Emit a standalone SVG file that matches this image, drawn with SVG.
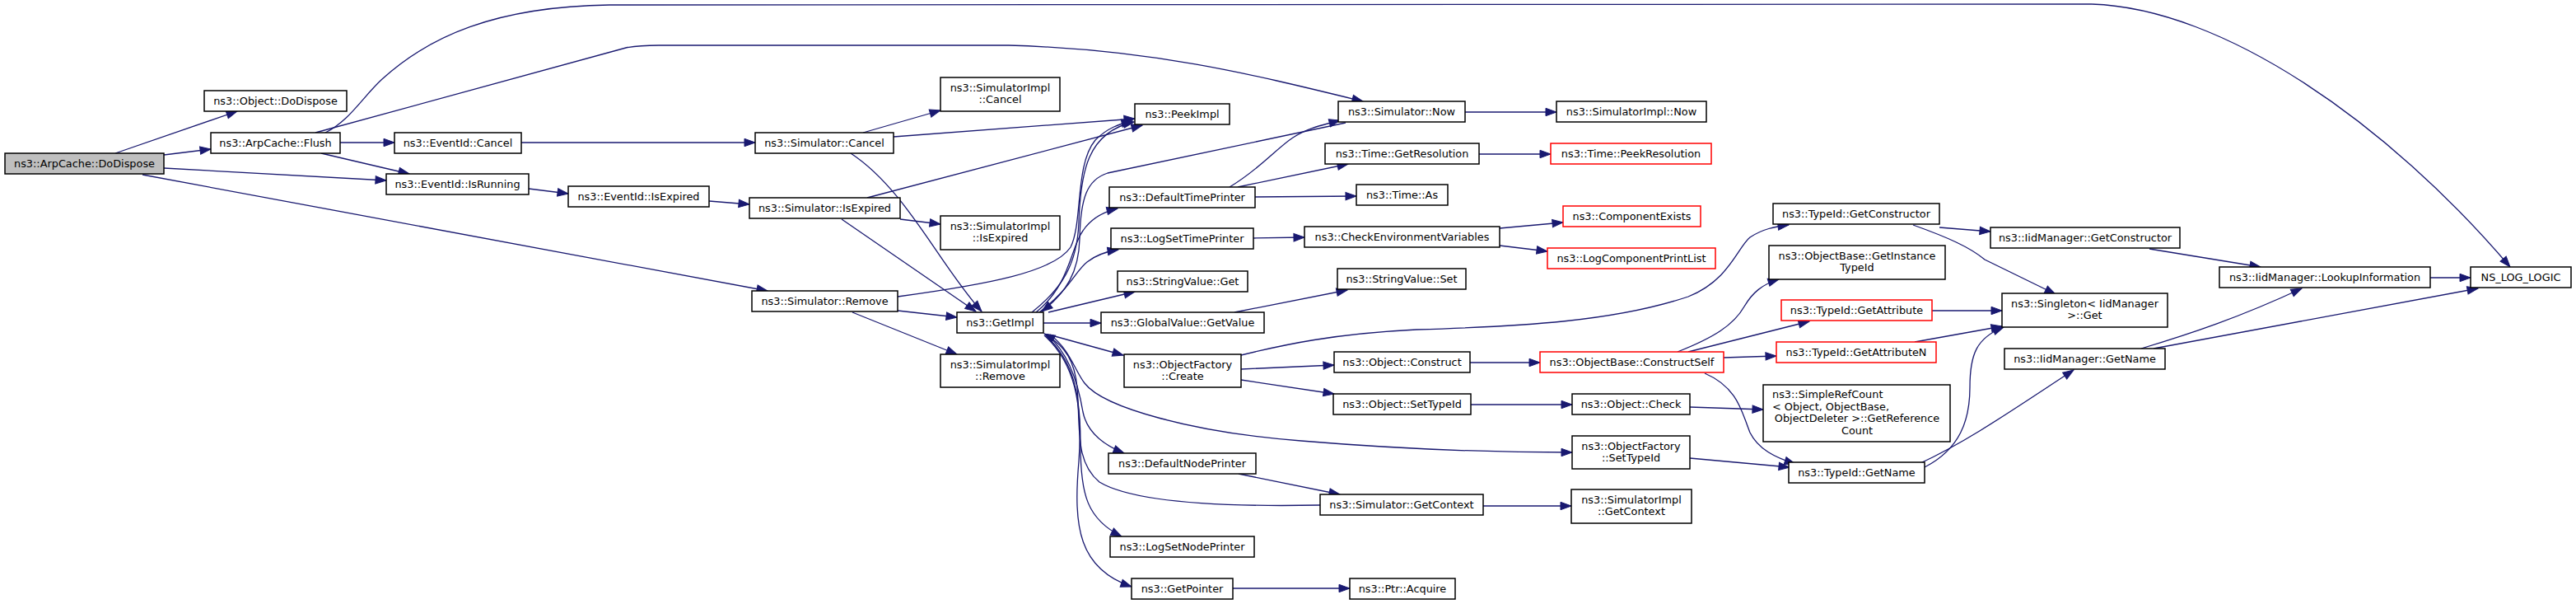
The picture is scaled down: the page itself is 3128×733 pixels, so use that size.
<svg xmlns="http://www.w3.org/2000/svg" width="3128" height="733" viewBox="0 0 3128 733">
<style>
.n rect{fill:#fff;stroke:#000;stroke-width:1.5}
.n.r rect{stroke:#ff0000}
.n.g rect{fill:#bfbfbf}
.n text{font-family:"DejaVu Sans","Liberation Sans",sans-serif;font-size:12.85px;fill:#000;text-anchor:middle}
.n text.l{text-anchor:start}
#edges path{fill:none;stroke:#191970;stroke-width:1.3;marker-end:url(#ah)}
</style>
<defs>
<marker id="ah" markerUnits="userSpaceOnUse" markerWidth="14" markerHeight="11" refX="13" refY="5" orient="auto" overflow="visible">
<path d="M0,0.3 L13,5 L0,9.7 z" fill="#191970" stroke="#191970" stroke-width="1"/>
</marker>
</defs>
<rect width="3128" height="733" fill="#fff"/>
<g id="edges">
<path d="M140,186 L288,135"/>
<path d="M199,188 L256,181"/>
<path d="M199,204 L469,219"/>
<path d="M173,212 L932,353"/>
<path d="M395,161 C425,146 440,118 464,96 C520,45 600,8 740,6 L2540,5 C2700,10 2900,150 3048,324"/>
<path d="M383,161 L760,58 Q775,55 800,55 L1225,55 C1400,60 1520,90 1655,123"/>
<path d="M413,173 L479,173"/>
<path d="M390,186 L497,211"/>
<path d="M633,173 L917,173"/>
<path d="M642,229 L690,235"/>
<path d="M861,244 L910,248"/>
<path d="M1048,161 L1142,134"/>
<path d="M1085,166 L1378,144"/>
<path d="M1033,186 C1100,230 1140,320 1192,378"/>
<path d="M1053,240 L1387,152"/>
<path d="M1093,266 L1142,272"/>
<path d="M1022,266 L1185,378"/>
<path d="M1090,360 C1200,345 1280,330 1300,300 C1315,270 1305,200 1330,170 C1345,155 1360,150 1375,147"/>
<path d="M1253,379 C1290,350 1308,320 1310,270 C1312,210 1320,160 1377,148"/>
<path d="M1634,149 L1345,210 C1320,218 1312,240 1311,290 C1310,330 1295,355 1265,378"/>
<path d="M1258,379 C1300,345 1300,300 1315,280 C1325,265 1340,257 1357,253"/>
<path d="M1262,379 C1300,350 1305,330 1320,318 C1330,310 1345,305 1358,303"/>
<path d="M1273,379 L1378,354"/>
<path d="M1267,392 L1337,392"/>
<path d="M1277,407 L1364,431"/>
<path d="M1275,406 C1300,425 1305,450 1317,465 C1340,495 1450,525 1580,535 C1700,545 1800,549 1909,549"/>
<path d="M1603,613 C1500,615 1380,612 1335,585 C1305,560 1312,520 1308,470 C1305,440 1295,420 1268,405"/>
<path d="M1272,407 C1300,430 1310,470 1315,500 C1320,525 1340,540 1365,550"/>
<path d="M1270,407 C1305,440 1312,480 1312,540 C1312,600 1320,630 1362,651"/>
<path d="M1268,407 C1305,440 1315,490 1310,560 C1303,640 1310,690 1374,712"/>
<path d="M1504,575 L1627,600"/>
<path d="M1035,379 L1162,430"/>
<path d="M1090,377 L1162,385"/>
<path d="M1779,136 L1890,136"/>
<path d="M1493,227 C1530,205 1550,180 1570,167 C1585,157 1600,153 1627,146"/>
<path d="M1503,227 L1637,199"/>
<path d="M1524,239 L1647,238"/>
<path d="M1796,187 L1883,187"/>
<path d="M1522,289 L1584,288"/>
<path d="M1821,277 L1898,270"/>
<path d="M1821,298 L1879,305"/>
<path d="M1499,379 L1636,352"/>
<path d="M1507,431 C1560,418 1620,405 1720,400 C1850,396 1960,390 2050,360 C2100,340 2110,300 2125,288 C2140,278 2155,275 2172,273"/>
<path d="M1507,448 L1620,443"/>
<path d="M1507,461 L1620,478"/>
<path d="M1785,440 L1870,440"/>
<path d="M1786,491 L1909,491"/>
<path d="M2037,427 C2080,410 2105,395 2118,372 C2128,355 2140,345 2160,339"/>
<path d="M2050,427 L2197,390"/>
<path d="M2093,434 L2157,432"/>
<path d="M2070,453 C2110,470 2115,500 2125,525 C2135,545 2155,555 2180,563"/>
<path d="M2052,494 L2141,497"/>
<path d="M2052,556 L2173,567"/>
<path d="M1801,614 L1908,614"/>
<path d="M1497,714 L1639,714"/>
<path d="M2355,276 L2417,281"/>
<path d="M2323,273 C2365,288 2392,300 2410,315 L2496,357"/>
<path d="M2346,377 L2431,377"/>
<path d="M2325,415 L2431,396"/>
<path d="M2337,567 C2380,545 2392,510 2392,470 C2392,430 2400,410 2433,397"/>
<path d="M2330,563 C2390,535 2440,500 2518,449"/>
<path d="M2610,302 L2745,324"/>
<path d="M2951,337 L3000,337"/>
<path d="M2600,423 C2660,405 2720,385 2795,350"/>
<path d="M2615,423 L3009,350"/>
</g>
<g id="n_dodispose" class="n g"><rect x="6" y="186" width="193" height="25"/><text x="102.5" y="203">ns3::ArpCache::DoDispose</text></g>
<g id="n_objdodispose" class="n"><rect x="248" y="110" width="173" height="25"/><text x="334.5" y="127">ns3::Object::DoDispose</text></g>
<g id="n_flush" class="n"><rect x="256" y="161" width="157" height="25"/><text x="334.5" y="178">ns3::ArpCache::Flush</text></g>
<g id="n_evcancel" class="n"><rect x="479" y="161" width="154" height="25"/><text x="556" y="178">ns3::EventId::Cancel</text></g>
<g id="n_isrunning" class="n"><rect x="469" y="211" width="173" height="25"/><text x="555.5" y="228">ns3::EventId::IsRunning</text></g>
<g id="n_evisexpired" class="n"><rect x="690" y="226" width="171" height="25"/><text x="775.5" y="243">ns3::EventId::IsExpired</text></g>
<g id="n_simcancel" class="n"><rect x="917" y="161" width="168" height="25"/><text x="1001" y="178">ns3::Simulator::Cancel</text></g>
<g id="n_simisexpired" class="n"><rect x="910" y="240" width="183" height="25"/><text x="1001.5" y="257">ns3::Simulator::IsExpired</text></g>
<g id="n_simremove" class="n"><rect x="913" y="353" width="177" height="25"/><text x="1001.5" y="370">ns3::Simulator::Remove</text></g>
<g id="n_implcancel" class="n"><rect x="1142" y="94" width="145" height="41"/><text x="1214.5" y="111">ns3::SimulatorImpl</text><text x="1214.5" y="125">::Cancel</text></g>
<g id="n_implisexpired" class="n"><rect x="1142" y="262" width="145" height="41"/><text x="1214.5" y="279">ns3::SimulatorImpl</text><text x="1214.5" y="293">::IsExpired</text></g>
<g id="n_implremove" class="n"><rect x="1142" y="430" width="145" height="40"/><text x="1214.5" y="447">ns3::SimulatorImpl</text><text x="1214.5" y="461">::Remove</text></g>
<g id="n_getimpl" class="n"><rect x="1162" y="379" width="105" height="25"/><text x="1214.5" y="396">ns3::GetImpl</text></g>
<g id="n_peekimpl" class="n"><rect x="1378" y="126" width="115" height="25"/><text x="1435.5" y="143">ns3::PeekImpl</text></g>
<g id="n_deftime" class="n"><rect x="1347" y="227" width="177" height="25"/><text x="1435.5" y="244">ns3::DefaultTimePrinter</text></g>
<g id="n_logsettime" class="n"><rect x="1349" y="277" width="173" height="25"/><text x="1435.5" y="294">ns3::LogSetTimePrinter</text></g>
<g id="n_strget" class="n"><rect x="1357" y="329" width="158" height="25"/><text x="1436" y="346">ns3::StringValue::Get</text></g>
<g id="n_gvget" class="n"><rect x="1337" y="379" width="198" height="25"/><text x="1436" y="396">ns3::GlobalValue::GetValue</text></g>
<g id="n_ofcreate" class="n"><rect x="1365" y="430" width="142" height="40"/><text x="1436" y="447">ns3::ObjectFactory</text><text x="1436" y="461">::Create</text></g>
<g id="n_defnode" class="n"><rect x="1346" y="550" width="179" height="25"/><text x="1435.5" y="567">ns3::DefaultNodePrinter</text></g>
<g id="n_logsetnode" class="n"><rect x="1348" y="651" width="175" height="25"/><text x="1435.5" y="668">ns3::LogSetNodePrinter</text></g>
<g id="n_getpointer" class="n"><rect x="1374" y="702" width="123" height="25"/><text x="1435.5" y="719">ns3::GetPointer</text></g>
<g id="n_simnow" class="n"><rect x="1625" y="123" width="154" height="25"/><text x="1702" y="140">ns3::Simulator::Now</text></g>
<g id="n_implnow" class="n"><rect x="1890" y="123" width="182" height="25"/><text x="1981" y="140">ns3::SimulatorImpl::Now</text></g>
<g id="n_getres" class="n"><rect x="1609" y="174" width="187" height="25"/><text x="1702.5" y="191">ns3::Time::GetResolution</text></g>
<g id="n_peekres" class="n r"><rect x="1883" y="174" width="195" height="25"/><text x="1980.5" y="191">ns3::Time::PeekResolution</text></g>
<g id="n_timeas" class="n"><rect x="1647" y="224" width="111" height="25"/><text x="1702.5" y="241">ns3::Time::As</text></g>
<g id="n_compexists" class="n r"><rect x="1898" y="250" width="167" height="25"/><text x="1981.5" y="267">ns3::ComponentExists</text></g>
<g id="n_checkenv" class="n"><rect x="1584" y="275" width="237" height="25"/><text x="1702.5" y="292">ns3::CheckEnvironmentVariables</text></g>
<g id="n_logcomp" class="n r"><rect x="1879" y="301" width="204" height="25"/><text x="1981" y="318">ns3::LogComponentPrintList</text></g>
<g id="n_strset" class="n"><rect x="1624" y="326" width="156" height="25"/><text x="1702" y="343">ns3::StringValue::Set</text></g>
<g id="n_objconstruct" class="n"><rect x="1620" y="427" width="165" height="25"/><text x="1702.5" y="444">ns3::Object::Construct</text></g>
<g id="n_objsettypeid" class="n"><rect x="1619" y="478" width="167" height="25"/><text x="1702.5" y="495">ns3::Object::SetTypeId</text></g>
<g id="n_ofsettypeid" class="n"><rect x="1909" y="529" width="143" height="40"/><text x="1980.5" y="546">ns3::ObjectFactory</text><text x="1980.5" y="560">::SetTypeId</text></g>
<g id="n_simgetctx" class="n"><rect x="1603" y="600" width="198" height="25"/><text x="1702" y="617">ns3::Simulator::GetContext</text></g>
<g id="n_implgetctx" class="n"><rect x="1908" y="594" width="146" height="41"/><text x="1981" y="611">ns3::SimulatorImpl</text><text x="1981" y="625">::GetContext</text></g>
<g id="n_ptracquire" class="n"><rect x="1639" y="702" width="128" height="25"/><text x="1703" y="719">ns3::Ptr::Acquire</text></g>
<g id="n_constructself" class="n r"><rect x="1870" y="427" width="223" height="25"/><text x="1981.5" y="444">ns3::ObjectBase::ConstructSelf</text></g>
<g id="n_objcheck" class="n"><rect x="1909" y="478" width="143" height="25"/><text x="1980.5" y="495">ns3::Object::Check</text></g>
<g id="n_tidgetctor" class="n"><rect x="2153" y="247" width="202" height="25"/><text x="2254" y="264">ns3::TypeId::GetConstructor</text></g>
<g id="n_getinsttid" class="n"><rect x="2148" y="298" width="214" height="41"/><text x="2255" y="315">ns3::ObjectBase::GetInstance</text><text x="2255" y="329">TypeId</text></g>
<g id="n_tidgetattr" class="n r"><rect x="2163" y="364" width="183" height="25"/><text x="2254.5" y="381">ns3::TypeId::GetAttribute</text></g>
<g id="n_tidgetattrn" class="n r"><rect x="2157" y="415" width="194" height="25"/><text x="2254" y="432">ns3::TypeId::GetAttributeN</text></g>
<g id="n_simplerefcount" class="n"><rect x="2141" y="467" width="227" height="69"/><text class="l" x="2152" y="483">ns3::SimpleRefCount</text><text class="l" x="2152" y="497.5">&lt; Object, ObjectBase,</text><text x="2255" y="512">ObjectDeleter &gt;::GetReference</text><text x="2255" y="526.5">Count</text></g>
<g id="n_tidgetname" class="n"><rect x="2172" y="561" width="165" height="25"/><text x="2254.5" y="578">ns3::TypeId::GetName</text></g>
<g id="n_iidgetctor" class="n"><rect x="2417" y="276" width="230" height="25"/><text x="2532" y="293">ns3::IidManager::GetConstructor</text></g>
<g id="n_singleton" class="n"><rect x="2431" y="356" width="201" height="41"/><text x="2531.5" y="373">ns3::Singleton&lt; IidManager</text><text x="2531.5" y="387">&gt;::Get</text></g>
<g id="n_iidgetname" class="n"><rect x="2434" y="423" width="195" height="25"/><text x="2531.5" y="440">ns3::IidManager::GetName</text></g>
<g id="n_lookup" class="n"><rect x="2695" y="324" width="256" height="25"/><text x="2823" y="341">ns3::IidManager::LookupInformation</text></g>
<g id="n_nslog" class="n"><rect x="3000" y="324" width="122" height="25"/><text x="3061" y="341">NS_LOG_LOGIC</text></g>
</svg>
